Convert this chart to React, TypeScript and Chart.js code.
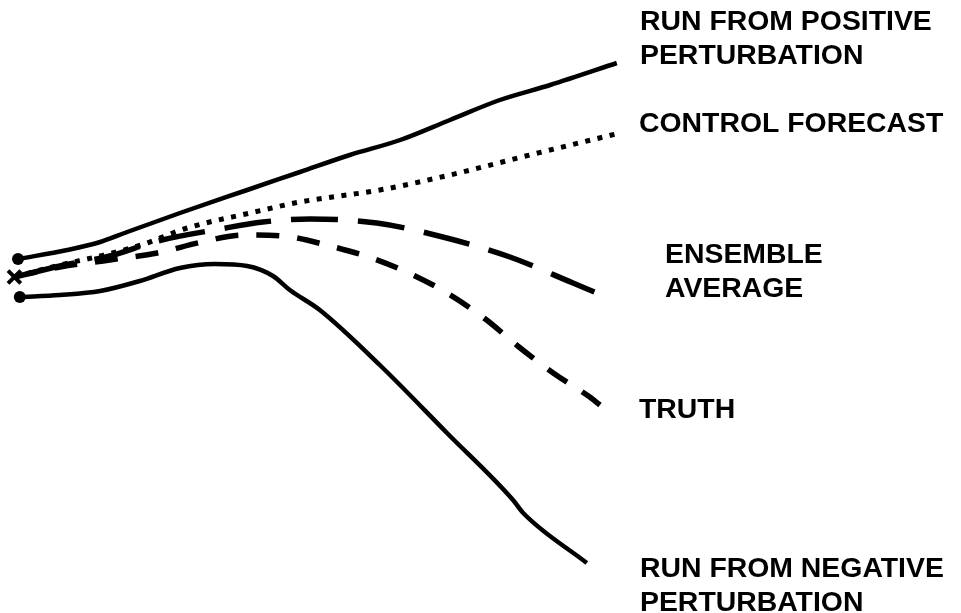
import React, { useEffect, useRef } from "react";
import { Chart, registerables } from "chart.js";

Chart.register(...registerables);

// Forecast time (arbitrary units) and state value (arbitrary units) for each run
const positiveT = [0, 8.2, 13.7, 18.2, 27, 38.2, 47, 55.3, 63.7, 72, 80.3, 88.7, 99.8];
const positiveV = [68.2, 70, 71.6, 73.6, 77.4, 82, 85.6, 89, 92, 96, 100, 103, 107.4];

const controlT = [-0.6, 7, 13.7, 20.5, 28.2, 38.7, 47, 60.3, 72, 85.3, 100.3];
const controlV = [64.6, 67, 68.8, 71, 74.4, 77.4, 79.6, 82, 85, 89, 93.4];

const ensembleT = [-0.6, 7, 15.3, 23.3, 33.7, 40.8, 48.7, 59.8, 70.8, 82, 92.5, 96.5];
const ensembleV = [64.6, 66.8, 68.8, 71.8, 74.2, 75.6, 76.2, 75.4, 72.6, 68.6, 63.4, 61.4];

const truthT = [-0.6, 7, 15.3, 23.2, 30.3, 37.5, 44.8, 52, 58.7, 65.5, 71.8, 78, 83.5, 89.2, 95.3, 97];
const truthV = [64.6, 66.6, 68, 69.4, 71.5, 73, 72.7, 70.8, 68.5, 65.2, 61.2, 56.1, 50.6, 45.4, 40.6, 39];

const negativeT = [0.3, 7, 13.7, 20.3, 27, 32.8, 38.2, 42.5, 45.3, 50.3, 60.3, 71.5, 82.5, 84.2, 94.8];
const negativeV = [60.6, 61, 61.8, 63.8, 66.4, 67.2, 66.8, 64.8, 62, 58, 47, 33.4, 20, 17.4, 7.4];

const labelPositive = ["RUN FROM POSITIVE", "PERTURBATION"];
const labelControl = ["CONTROL FORECAST"];
const labelEnsemble = ["ENSEMBLE", "AVERAGE"];
const labelTruth = ["TRUTH"];
const labelNegative = ["RUN FROM NEGATIVE", "PERTURBATION"];

const pts = (t: number[], v: number[]) => t.map((x, i) => ({ x, y: v[i] }));

const labelLayout = [
  { lines: labelPositive, x: 640, y: 30 },
  { lines: labelControl, x: 639, y: 132 },
  { lines: labelEnsemble, x: 665, y: 263 },
  { lines: labelTruth, x: 639, y: 418 },
  { lines: labelNegative, x: 640, y: 577 },
];

const labelsPlugin = {
  id: "sideLabels",
  afterDraw(chart: any) {
    const ctx = chart.ctx;
    ctx.save();
    ctx.fillStyle = "#000";
    ctx.font = "bold 28.4px 'Liberation Sans', Arial, sans-serif";
    ctx.textBaseline = "alphabetic";
    ctx.textAlign = "left";
    for (const l of labelLayout) {
      l.lines.forEach((s, i) => ctx.fillText(s, l.x, l.y + i * 33.5));
    }
    ctx.restore();
  },
};

export default function App() {
  const ref = useRef<HTMLCanvasElement>(null);
  useEffect(() => {
    if (!ref.current) return;
    const firstOnly = (n: number, r: number) => Array.from({ length: n }, (_, i) => (i === 0 ? r : 0));
    const chart = new Chart(ref.current, {
      type: "line",
      data: {
        datasets: [
          {
            label: "Run from positive perturbation",
            data: pts(positiveT, positiveV),
            borderColor: "#000",
            backgroundColor: "#000",
            borderWidth: 4.5,
            pointRadius: firstOnly(positiveT.length, 6),
            pointBorderWidth: 0,
            cubicInterpolationMode: "monotone",
          },
          {
            label: "Control forecast",
            data: pts(controlT, controlV),
            borderColor: "#000",
            borderWidth: 5,
            borderDash: [5, 7.5],
            pointRadius: 0,
            cubicInterpolationMode: "monotone",
          },
          {
            label: "Ensemble average",
            data: pts(ensembleT, ensembleV),
            borderColor: "#000",
            borderWidth: 5.5,
            borderDash: [47, 20],
            borderDashOffset: 52,
            pointRadius: 0,
            cubicInterpolationMode: "monotone",
          },
          {
            label: "Truth",
            data: pts(truthT, truthV),
            borderColor: "#000",
            backgroundColor: "#000",
            borderWidth: 5.5,
            borderDash: [23, 18],
            pointStyle: "crossRot",
            pointRadius: firstOnly(truthT.length, 9),
            pointBorderWidth: 4,
            cubicInterpolationMode: "monotone",
          },
          {
            label: "Run from negative perturbation",
            data: pts(negativeT, negativeV),
            borderColor: "#000",
            backgroundColor: "#000",
            borderWidth: 4.5,
            pointRadius: firstOnly(negativeT.length, 6),
            pointBorderWidth: 0,
            cubicInterpolationMode: "monotone",
          },
        ],
      },
      options: {
        animation: false,
        responsive: false,
        events: [],
        layout: { padding: 0, autoPadding: false },
        clip: false as any,
        plugins: { legend: { display: false }, tooltip: { enabled: false } },
        scales: {
          x: { type: "linear", min: -3, max: 157.17, display: false },
          y: { type: "linear", min: -2.6, max: 120, display: false },
        },
      },
      plugins: [labelsPlugin],
    });
    return () => chart.destroy();
  }, []);
  return (
    <div style={{ position: "absolute", left: 0, top: 0, width: 961, height: 613, background: "#fff" }}>
      <canvas ref={ref} width={961} height={613} />
    </div>
  );
}
